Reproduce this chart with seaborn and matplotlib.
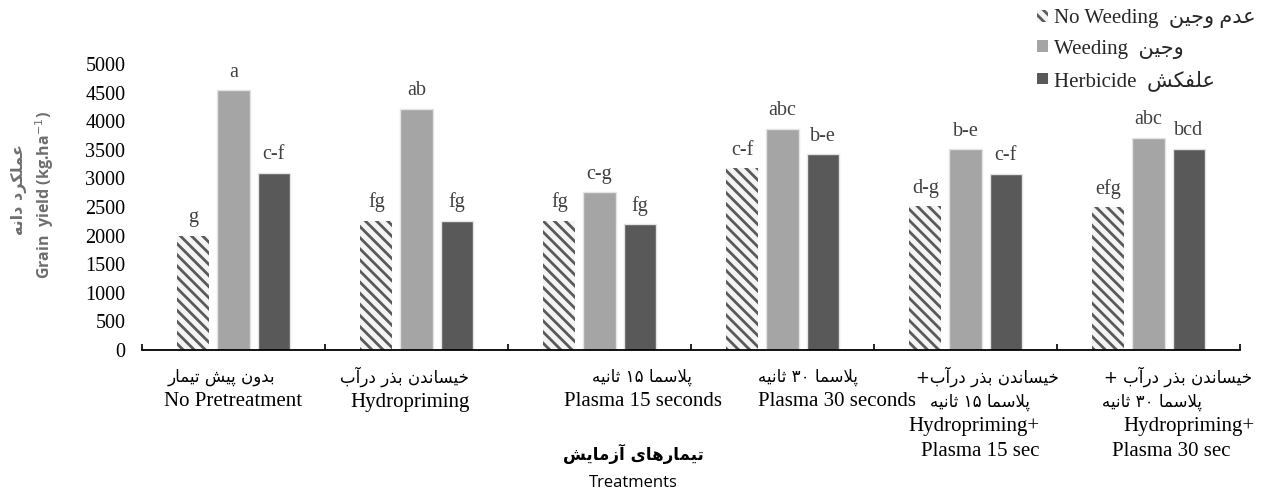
import re
import numpy as np
import pandas as pd
import matplotlib
matplotlib.use('Agg')
import matplotlib.pyplot as plt
import seaborn as sns

# ---------------- data ----------------
categories = ['No Pretreatment', 'Hydropriming', 'Plasma 15 seconds', 'Plasma 30 seconds',
              'Hydropriming+Plasma 15 sec', 'Hydropriming+Plasma 30 sec']
label_lines = [
    ['بدون پیش تیمار', 'No Pretreatment'],
    ['خیساندن بذر درآب', 'Hydropriming'],
    ['پلاسما ۱۵ ثانیه', 'Plasma 15 seconds'],
    ['پلاسما ۳۰ ثانیه', 'Plasma 30 seconds'],
    ['خیساندن بذر درآب+', 'پلاسما ۱۵ ثانیه', 'Hydropriming+', 'Plasma 15 sec'],
    ['خیساندن بذر درآب +', 'پلاسما ۳۰ ثانیه', 'Hydropriming+', 'Plasma 30 sec'],
]
series_en = ['No Weeding', 'Weeding', 'Herbicide']
series_fa = ['عدم وجین', 'وجین', 'علفکش']
no_weeding = [2000, 2260, 2260, 3180, 2510, 2500]
weeding = [4540, 4220, 2760, 3870, 3510, 3710]
herbicide = [3100, 2260, 2200, 3420, 3080, 3520]
letters_no_weeding = ['g', 'fg', 'fg', 'c-f', 'd-g', 'efg']
letters_weeding = ['a', 'ab', 'c-g', 'abc', 'b-e', 'abc']
letters_herbicide = ['c-f', 'fg', 'fg', 'b-e', 'c-f', 'bcd']
y_ticks = [0, 500, 1000, 1500, 2000, 2500, 3000, 3500, 4000, 4500, 5000]
y_title_en = 'Grain  yield (kg.ha$^{-1}$)'
y_title_fa = 'عملکرد دانه'
x_title_fa = 'تیمارهای آزمایش'
x_title_en = 'Treatments'

# ---------------- minimal Persian shaping (presentation forms, visual order) ----------------
FORMS = {
    '\u0627': ('\uFE8D', '\uFE8E', None, None),
    '\u0622': ('\uFE81', '\uFE82', None, None),
    '\u062F': ('\uFEA9', '\uFEAA', None, None),
    '\u0630': ('\uFEAB', '\uFEAC', None, None),
    '\u0631': ('\uFEAD', '\uFEAE', None, None),
    '\u0632': ('\uFEAF', '\uFEB0', None, None),
    '\u0648': ('\uFEED', '\uFEEE', None, None),
    '\u0628': ('\uFE8F', '\uFE90', '\uFE91', '\uFE92'),
    '\u067E': ('\uFB56', '\uFB57', '\uFB58', '\uFB59'),
    '\u062A': ('\uFE95', '\uFE96', '\uFE97', '\uFE98'),
    '\u062B': ('\uFE99', '\uFE9A', '\uFE9B', '\uFE9C'),
    '\u062C': ('\uFE9D', '\uFE9E', '\uFE9F', '\uFEA0'),
    '\u062E': ('\uFEA5', '\uFEA6', '\uFEA7', '\uFEA8'),
    '\u0633': ('\uFEB1', '\uFEB2', '\uFEB3', '\uFEB4'),
    '\u0634': ('\uFEB5', '\uFEB6', '\uFEB7', '\uFEB8'),
    '\u0639': ('\uFEC9', '\uFECA', '\uFECB', '\uFECC'),
    '\u0641': ('\uFED1', '\uFED2', '\uFED3', '\uFED4'),
    '\u06A9': ('\uFB8E', '\uFB8F', '\uFB90', '\uFB91'),
    '\u0644': ('\uFEDD', '\uFEDE', '\uFEDF', '\uFEE0'),
    '\u0645': ('\uFEE1', '\uFEE2', '\uFEE3', '\uFEE4'),
    '\u0646': ('\uFEE5', '\uFEE6', '\uFEE7', '\uFEE8'),
    '\u0647': ('\uFEE9', '\uFEEA', '\uFEEB', '\uFEEC'),
    '\u06CC': ('\uFBFC', '\uFBFD', '\uFBFE', '\uFBFF'),
}


def _joins_fwd(c):
    return c in FORMS and FORMS[c][2] is not None


def _shape(word):
    out = []
    i = 0
    n = len(word)
    while i < n:
        c = word[i]
        prev = word[i - 1] if i > 0 else None
        nxt = word[i + 1] if i < n - 1 else None
        jp = prev is not None and _joins_fwd(prev) and c in FORMS
        if c == '\u0644' and nxt == '\u0627':
            out.append('\uFEFC' if jp else '\uFEFB')
            i += 2
            continue
        if c not in FORMS:
            out.append(c)
            i += 1
            continue
        jn = _joins_fwd(c) and nxt in FORMS
        f = FORMS[c]
        if jp and jn:
            out.append(f[3])
        elif jp:
            out.append(f[1])
        elif jn:
            out.append(f[2])
        else:
            out.append(f[0])
        i += 1
    return ''.join(out)


def rtl(s):
    """Right-to-left paragraph: whole line in visual order, digits kept left-to-right."""
    rev = _shape(s)[::-1]
    return re.sub(r'[\u06F0-\u06F90-9]+', lambda m: m.group(0)[::-1], rev)


def ltr_mixed(s):
    """Left-to-right paragraph with embedded Persian runs."""
    return re.sub(r'[\u0600-\u06FF]+(?: +[\u0600-\u06FF]+)*', lambda m: rtl(m.group(0)), s)


# ---------------- style ----------------
sns.set_theme(style='white')
plt.rcParams['font.family'] = ['Liberation Serif', 'DejaVu Sans']
plt.rcParams['hatch.linewidth'] = 2.0

W, H = 1263, 491
fig = plt.figure(figsize=(W / 100, H / 100), dpi=100)
ax = fig.add_axes([142 / W, 1 - 350 / H, (1240 - 142) / W, (350 - 64) / H])

df = pd.DataFrame({
    'treatment': np.repeat(categories, 3),
    'method': series_en * len(categories),
    'yield': np.ravel(np.column_stack([no_weeding, weeding, herbicide])),
})

white, light, dark = '#ffffff', '#a5a5a5', '#595959'
sns.barplot(data=df, x='treatment', y='yield', hue='method', order=categories,
            hue_order=series_en, palette=[white, light, dark], width=0.656, gap=0.2,
            errorbar=None, legend=False, ax=ax, saturation=1)

for bar in ax.containers[0]:
    bar.set_facecolor('#f4f4f4')
    bar.set_edgecolor('#5a5a5a')
    bar.set_hatch('\\\\\\')
    bar.set_linewidth(0)
for cont in ax.containers[1:]:
    for bar in cont:
        bar.set_edgecolor('#e4e4e4')
        bar.set_linewidth(1.0)

for cont, labs in zip(ax.containers, [letters_no_weeding, letters_weeding, letters_herbicide]):
    ax.bar_label(cont, labels=labs, padding=6, fontsize=14.5, color='#404040',
                 family='Liberation Serif')

ax.set_ylim(0, 5000)
ax.set_xlim(-0.5, len(categories) - 0.5)
ax.set_yticks(y_ticks)
ax.set_yticklabels([str(v) for v in y_ticks], fontsize=14.5, family='Liberation Serif', color='black')
ax.tick_params(axis='y', length=0, pad=12)
ax.set_xticks(np.arange(len(categories)))
ax.set_xticklabels([])
ax.tick_params(axis='x', which='major', length=0)
ax.set_xticks(np.arange(-0.5, len(categories), 1.0), minor=True)
ax.tick_params(axis='x', which='minor', direction='in', length=4, width=1.2, color='black', bottom=True)
ax.set_xlabel('')
ax.set_ylabel('')
for s in ['top', 'right', 'left']:
    ax.spines[s].set_visible(False)
ax.spines['bottom'].set_color('black')
ax.spines['bottom'].set_linewidth(1.3)
ax.grid(False)

# category labels (line by line)
line_dx_px = [
    [-12, 0],
    [-12, -6],
    [43, 43],
    [25, 54],
    [22, 15, 8, 15],
    [30, 4, 40, 23],
]
line_dy_px = [27, 52, 77, 102]
xt = ax.get_xaxis_transform()
for i, lines in enumerate(label_lines):
    for j, txt in enumerate(lines):
        is_fa = re.search(r'[\u0600-\u06FF]', txt) is not None
        ax.annotate(rtl(txt) if is_fa else txt, xy=(i, 0), xycoords=xt,
                    xytext=(line_dx_px[i][j] * 0.72, -line_dy_px[j] * 0.72),
                    textcoords='offset points', ha='center', va='center',
                    fontsize=12 if is_fa else 15,
                    family='DejaVu Sans' if is_fa else 'Liberation Serif',
                    color='black', annotation_clip=False)

# axis titles
fig.text(633 / W, 1 - 454 / H, rtl(x_title_fa), ha='center', va='center',
         fontsize=12, fontweight='bold', family='DejaVu Sans', color='black')
fig.text(633 / W, 1 - 483 / H, x_title_en, ha='center', va='center',
         fontsize=12, family='Open Sans', color='black')
fig.text(45 / W, 1 - 195 / H, y_title_en, ha='center', va='center', rotation=90,
         fontsize=11.5, fontweight='bold', family='Open Sans', color='#6e6e6e')
fig.text(19 / W, 1 - 190 / H, rtl(y_title_fa), ha='center', va='center', rotation=90,
         fontsize=11.5, fontweight='bold', family='DejaVu Sans', color='#6e6e6e')

# legend
handles = [plt.Rectangle((0, 0), 1, 1, facecolor='#f4f4f4', edgecolor='#5a5a5a', hatch='\\\\\\', linewidth=0),
           plt.Rectangle((0, 0), 1, 1, facecolor=light, edgecolor='none'),
           plt.Rectangle((0, 0), 1, 1, facecolor=dark, edgecolor='none')]
leg_labels = [ltr_mixed(f'{en}  {fa}') for en, fa in zip(series_en, series_fa)]
fig.legend(handles, leg_labels, loc='upper left', bbox_to_anchor=(1033 / W, 1 - 5 / H),
           frameon=False, handlelength=0.5, handleheight=0.5,
           handletextpad=0.3, labelspacing=0.55, borderpad=0.2, borderaxespad=0,
           prop={'family': ['Liberation Serif', 'DejaVu Sans'], 'size': 15})

fig.savefig('out.png', dpi=100)
